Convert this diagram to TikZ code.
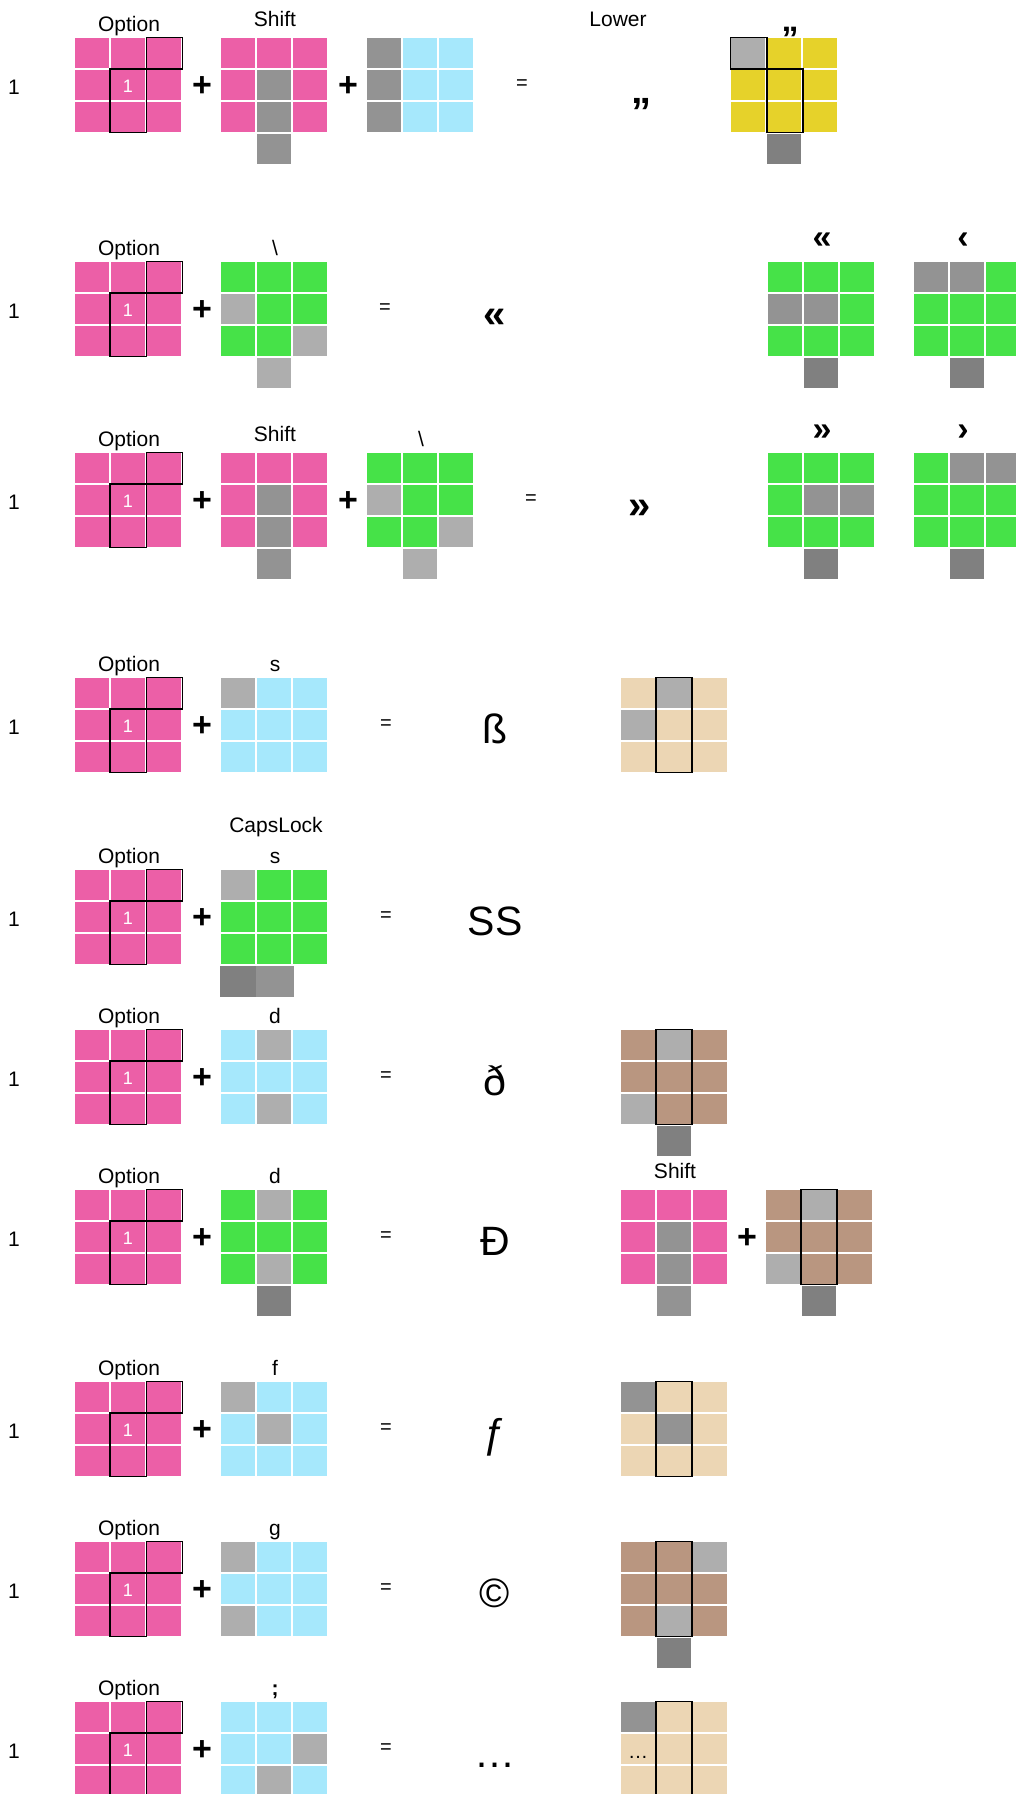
\documentclass[tikz,border=0pt]{standalone}
\usepackage{fontspec}
\setmainfont{Liberation Sans}

\definecolor{keypink}{HTML}{EC5FA7}
\definecolor{keyblue}{HTML}{A6E8FC}
\definecolor{keygreen}{HTML}{46E248}
\definecolor{keyyellow}{HTML}{E6D22A}
\definecolor{keytan}{HTML}{ECD6B4}
\definecolor{keybrown}{HTML}{B99680}
\definecolor{graymid}{HTML}{939393}
\definecolor{graylite}{HTML}{AEAEAE}
\definecolor{graydark}{HTML}{808080}

\tikzset{
  keylbl/.style={font=\fontsize{21}{25}\selectfont, anchor=base, inner sep=0pt},
  rownum/.style={font=\fontsize{21}{25}\selectfont, anchor=base, inner sep=0pt},
  plussign/.style={font=\fontsize{34}{40}\selectfont\bfseries, inner sep=0pt},
  eqsign/.style={font=\fontsize{20}{24}\selectfont, inner sep=0pt},
  result/.style={font=\fontsize{41}{48}\selectfont, anchor=base, inner sep=0pt},
  resultbold/.style={font=\fontsize{40}{48}\selectfont\bfseries, anchor=base, inner sep=0pt},
  glyph/.style={font=\fontsize{34}{40}\selectfont\bfseries, anchor=base, inner sep=0pt},
  hl/.style={draw=black, line width=1.6pt},
}

% 3x3 key block: left x, top y, nine colours row by row
\newcommand{\keygrid}[3]{%
  \foreach \kc [count=\ki from 0] in {#3}{%
    \pgfmathsetmacro{\kx}{#1+36*mod(\ki,3)}%
    \pgfmathsetmacro{\ky}{#2+32*int(\ki/3)}%
    \fill[fill=\kc] (\kx,\ky) rectangle ++(34,30);
  }}
% extra cell under the middle column
\newcommand{\keystem}[3]{\fill[fill=#3] ({#1+36},{#2+96}) rectangle ++(34,30);}
% frame round the middle column
\newcommand{\keycol}[2]{\draw[hl] ({#1+35},{#2-0.5}) rectangle ({#1+71},{#2+94.5});}
% the Option block with row number and plus
\newcommand{\optkey}[2]{%
  \keygrid{75}{#2}{keypink,keypink,keypink,keypink,keypink,keypink,keypink,keypink,keypink}
  \draw[hl] (146.5,{#2-0.5}) rectangle (182.5,{#2+31});
  \draw[hl] (110,{#2+31}) rectangle (146.5,{#2+94.5});
  \node[font=\fontsize{18}{20}\selectfont, text=white] (one#1) at (128,{#2+48}) {1};
  \node[keylbl] (opt#1) at (129,{#2-7}) {Option};
  \node[rownum] (num#1) at (14,{#2+56}) {1};
  \node[plussign] (plus#1) at (202,{#2+49}) {+};
}
% the Shift block
\newcommand{\shiftkey}[3]{%
  \keygrid{#2}{#3}{keypink,keypink,keypink,keypink,graymid,keypink,keypink,graymid,keypink}
  \keystem{#2}{#3}{graymid}
  \node[keylbl] (shift#1) at ({#2+54},{#3-12}) {Shift};
}

\begin{document}
\begin{tikzpicture}[x=1pt,y=-1pt]
  \useasboundingbox (0,0) rectangle (1016,1794);
  \clip (0,0) rectangle (1016,1794);

  % Row 1: Option + Shift + [ = lower quote
  \optkey{1}{38}
  \shiftkey{1}{221}{38}
  \node[plussign] (plusb1) at (348,87) {+};
  \keygrid{367}{38}{graymid,keyblue,keyblue,graymid,keyblue,keyblue,graymid,keyblue,keyblue}
  \node[eqsign] (eq1) at (522,85) {=};
  \node[keylbl] (lower1) at (618,26) {Lower};
  \node[resultbold] (res1) at (641,103) {„};
  \keygrid{731}{38}{graylite,keyyellow,keyyellow,keyyellow,keyyellow,keyyellow,keyyellow,keyyellow,keyyellow}
  \keystem{731}{38}{graydark}
  \draw[hl] (730.5,37.5) rectangle (767,69);
  \draw[hl] (767,69) rectangle (803,132.5);
  \node[glyph] (out1) at (790,31) {„};

  % Row 2: Option + \ = «
  \optkey{2}{262}
  \keygrid{221}{262}{keygreen,keygreen,keygreen,graylite,keygreen,keygreen,keygreen,keygreen,graylite}
  \keystem{221}{262}{graylite}
  \node[keylbl] (bsl2) at (275,255) {\textbackslash};
  \node[eqsign] (eq2) at (385,309) {=};
  \node[resultbold] (res2) at (495,327) {«};
  \keygrid{768}{262}{keygreen,keygreen,keygreen,graymid,graymid,keygreen,keygreen,keygreen,keygreen}
  \keystem{768}{262}{graydark}
  \node[glyph] (outa2) at (822,248) {«};
  \keygrid{914}{262}{graymid,graymid,keygreen,keygreen,keygreen,keygreen,keygreen,keygreen,keygreen}
  \keystem{914}{262}{graydark}
  \node[glyph] (outb2) at (963,248) {‹};

  % Row 3: Option + Shift + \ = »
  \optkey{3}{453}
  \shiftkey{3}{221}{453}
  \node[plussign] (plusb3) at (348,502) {+};
  \keygrid{367}{453}{keygreen,keygreen,keygreen,graylite,keygreen,keygreen,keygreen,keygreen,graylite}
  \keystem{367}{453}{graylite}
  \node[keylbl] (bsl3) at (421,446) {\textbackslash};
  \node[eqsign] (eq3) at (531,500) {=};
  \node[resultbold] (res3) at (640,518) {»};
  \keygrid{768}{453}{keygreen,keygreen,keygreen,keygreen,graymid,graymid,keygreen,keygreen,keygreen}
  \keystem{768}{453}{graydark}
  \node[glyph] (outa3) at (822,440) {»};
  \keygrid{914}{453}{keygreen,graymid,graymid,keygreen,keygreen,keygreen,keygreen,keygreen,keygreen}
  \keystem{914}{453}{graydark}
  \node[glyph] (outb3) at (963,440) {›};

  % Row 4: Option + s
  \optkey{4}{678}
  \keygrid{221}{678}{graylite,keyblue,keyblue,keyblue,keyblue,keyblue,keyblue,keyblue,keyblue}
  \node[keylbl] (s4) at (275,671) {s};
  \node[eqsign] (eq4) at (386,725) {=};
  \node[result] (res4) at (495,743) {ß};
  \keygrid{621}{678}{keytan,graylite,keytan,graylite,keytan,keytan,keytan,keytan,keytan}
  \keycol{621}{678}

  % Row 5: Option + CapsLock s
  \optkey{5}{870}
  \node[keylbl] (caps5) at (276,832) {CapsLock};
  \node[keylbl] (s5) at (275,863) {s};
  \keygrid{221}{870}{graylite,keygreen,keygreen,keygreen,keygreen,keygreen,keygreen,keygreen,keygreen}
  \fill[graydark] (220,966) rectangle (256,997);
  \fill[graymid] (256,966) rectangle (294,997);
  \node[eqsign] (eq5) at (386,917) {=};
  \node[result] (res5) at (495,935) {SS};

  % Row 6: Option + d
  \optkey{6}{1030}
  \keygrid{221}{1030}{keyblue,graylite,keyblue,keyblue,keyblue,keyblue,keyblue,graylite,keyblue}
  \node[keylbl] (d6) at (275,1023) {d};
  \node[eqsign] (eq6) at (386,1077) {=};
  \node[result] (res6) at (495,1095) {ð};
  \keygrid{621}{1030}{keybrown,graylite,keybrown,keybrown,keybrown,keybrown,graylite,keybrown,keybrown}
  \keystem{621}{1030}{graydark}
  \keycol{621}{1030}

  % Row 7: Option + D
  \optkey{7}{1190}
  \keygrid{221}{1190}{keygreen,graylite,keygreen,keygreen,keygreen,keygreen,keygreen,graylite,keygreen}
  \keystem{221}{1190}{graydark}
  \node[keylbl] (d7) at (275,1183) {d};
  \node[eqsign] (eq7) at (386,1237) {=};
  \node[result] (res7) at (495,1255) {Đ};
  \shiftkey{7}{621}{1190}
  \node[plussign] (plusb7) at (747,1239) {+};
  \keygrid{766}{1190}{keybrown,graylite,keybrown,keybrown,keybrown,keybrown,graylite,keybrown,keybrown}
  \keystem{766}{1190}{graydark}
  \keycol{766}{1190}

  % Row 8: Option + f
  \optkey{8}{1382}
  \keygrid{221}{1382}{graylite,keyblue,keyblue,keyblue,graylite,keyblue,keyblue,keyblue,keyblue}
  \node[keylbl] (f8) at (275,1375) {f};
  \node[eqsign] (eq8) at (386,1429) {=};
  \node[result] (res8) at (495,1447) {ƒ};
  \keygrid{621}{1382}{graymid,keytan,keytan,keytan,graymid,keytan,keytan,keytan,keytan}
  \keycol{621}{1382}

  % Row 9: Option + g
  \optkey{9}{1542}
  \keygrid{221}{1542}{graylite,keyblue,keyblue,keyblue,keyblue,keyblue,graylite,keyblue,keyblue}
  \node[keylbl] (g9) at (275,1535) {g};
  \node[eqsign] (eq9) at (386,1589) {=};
  \node[result] (res9) at (495,1607) {©};
  \keygrid{621}{1542}{keybrown,keybrown,graylite,keybrown,keybrown,keybrown,keybrown,graylite,keybrown}
  \keystem{621}{1542}{graydark}
  \keycol{621}{1542}

  % Row 10: Option + ;
  \optkey{10}{1702}
  \keygrid{221}{1702}{keyblue,keyblue,keyblue,keyblue,keyblue,graylite,keyblue,graylite,keyblue}
  \node[keylbl, font=\fontsize{21}{25}\selectfont\bfseries] (semi10) at (275,1695) {;};
  \node[eqsign] (eq10) at (386,1749) {=};
  \node[result] (res10) at (495,1767) {…};
  \keygrid{621}{1702}{graymid,keytan,keytan,keytan,keytan,keytan,keytan,keytan,keytan}
  \keycol{621}{1702}
  \node[font=\fontsize{20}{24}\selectfont, anchor=base, inner sep=0pt] (dots10) at (638,1758) {…};
\end{tikzpicture}
\end{document}
